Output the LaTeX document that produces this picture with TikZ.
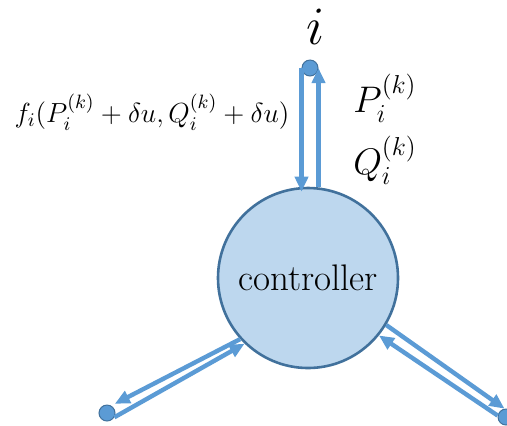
\documentclass[tikz,border=0pt]{standalone}
\usepackage{fix-cm}
\usepackage{amsmath}
\usepackage{xcolor}
\usetikzlibrary{arrows.meta}
\definecolor{flowblue}{HTML}{5B9BD5}
\definecolor{ctrlfill}{HTML}{BDD7EE}
\definecolor{ctrldraw}{HTML}{41719C}
\tikzset{
  ctrl/.style={circle, draw=ctrldraw, fill=ctrlfill, line width=1.3pt,
               minimum size=90pt, inner sep=0pt, font=\fontsize{18.5}{21}\selectfont},
  bus/.style={circle, draw=ctrldraw, fill=flowblue, line width=0.5pt,
              minimum size=8pt, inner sep=0pt},
  flow/.style={-{Triangle[length=7.5pt,width=6.5pt]}, draw=flowblue, line width=2.2pt},
  lbl/.style={inner sep=0pt, font=\fontsize{18.5}{21}\selectfont}
}
\begin{document}
\begin{tikzpicture}[x=0.5pt,y=-0.5pt]
  \useasboundingbox (0,0) rectangle (507,425);
  \node[ctrl] (ctrl) at (308,278) {controller};
  \node[bus] (ni) at (310,68) {};
  \node[bus] (nl) at (107,413) {};
  \node[bus] (nr) at (506,417) {};
  \node[lbl, font=\fontsize{27}{29}\selectfont] (name) at (316,27) {$i$};
  \node[lbl, font=\fontsize{13.8}{16}\selectfont] (fval) at (152,112)
    {$f_i(P_i^{(k)}+\delta u, Q_i^{(k)}+\delta u)$};
  \node[lbl] (pval) at (385,98) {$P_i^{(k)}$};
  \node[lbl] (qval) at (385,160) {$Q_i^{(k)}$};
  \draw[flow, shorten >=-2.5pt] (ni.west) -- (ni.west |- ctrl.north);
  \draw[flow] (ni.east |- ctrl.north) -- (ni.east);
  \draw[flow, shorten >=2pt] (ctrl.222) -- (nl.60);
  \draw[flow] (nl.-30) -- (ctrl.226);
  \draw[flow] (ctrl.-31) -- (nr.100);
  \draw[flow] (nr.170) -- (ctrl.-39);
\end{tikzpicture}
\end{document}
